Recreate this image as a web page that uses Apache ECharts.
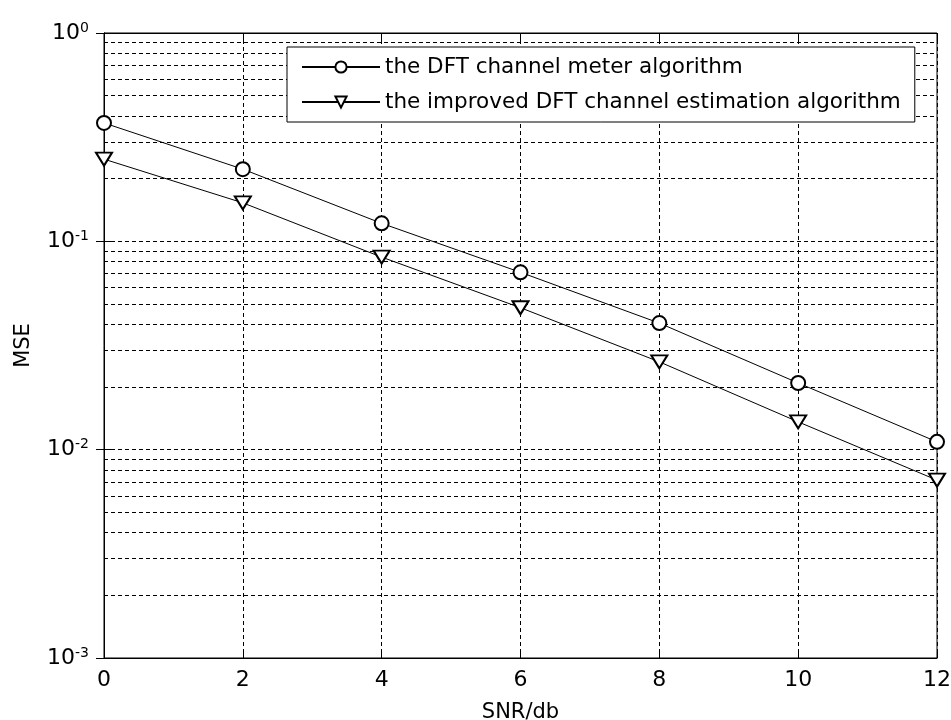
<!DOCTYPE html>
<html>
<head>
<meta charset="utf-8">
<script src="https://cdn.jsdelivr.net/npm/echarts@6/dist/echarts.min.js"></script>
<style>
  html, body { margin: 0; padding: 0; background: #fff; }
  #chartDiv { width: 951px; height: 720px; }
</style>
</head>
<body>
<div id="chartDiv"></div>
<script>
// SNR values (x) and MSE for the two algorithms
var snr = [0, 2, 4, 6, 8, 10, 12];
var dftMse = [0.37, 0.222, 0.122, 0.071, 0.0405, 0.0209, 0.0109];
var improvedMse = [0.248, 0.153, 0.084, 0.048, 0.0264, 0.0136, 0.00714];
var seriesNames = ['the DFT channel meter algorithm', 'the improved DFT channel estimation algorithm'];
// minor log grid lines (2..9 x 10^k)
var minorGrid = [];
[0.001, 0.01, 0.1].forEach(function (d) {
    for (var k = 2; k <= 9; k++) minorGrid.push(+(k * d).toPrecision(3));
});

var FONT = 'DejaVu Sans, Liberation Sans, Arial, sans-serif';
var dash = [4, 3];

var myChart = echarts.init(document.getElementById('chartDiv'));

var toPairs = function (ys) {
    return snr.map(function (x, i) { return [x, ys[i]]; });
};

var option = {
    backgroundColor: '#fff',
    animation: false,
    grid: {
        left: 104, right: 14, top: 33, bottom: 62,
        outerBoundsMode: 'none',
        containLabel: false,
        show: true,
        borderColor: '#000',
        borderWidth: 1
    },
    legend: {
        orient: 'vertical',
        left: 287, top: 47,
        z: 20,
        padding: [8, 14, 8, 14],
        itemWidth: 78, itemHeight: 14, itemGap: 11,
        backgroundColor: '#fff',
        borderColor: '#000', borderWidth: 1,
        textStyle: { fontFamily: FONT, fontSize: 21.5, color: '#000', lineHeight: 24 },
        data: seriesNames
    },
    xAxis: [{
        type: 'value', min: 0, max: 12, interval: 2,
        name: 'SNR/db', nameLocation: 'middle', nameGap: 44,
        nameTextStyle: { fontFamily: FONT, fontSize: 21, color: '#000' },
        axisLine: { lineStyle: { color: '#000' } },
        axisTick: { inside: true, length: 8, lineStyle: { color: '#000' } },
        axisLabel: { fontFamily: FONT, fontSize: 22, color: '#000', margin: 11 },
        splitLine: { show: true, lineStyle: { color: '#000', type: dash } }
    }, {
        type: 'value', min: 0, max: 12, interval: 2, position: 'top',
        axisLine: { lineStyle: { color: '#000' } },
        axisTick: { inside: true, length: 8, lineStyle: { color: '#000' } },
        axisLabel: { show: false },
        splitLine: { show: false }
    }],
    yAxis: [{
        type: 'log', min: 0.001, max: 1, logBase: 10,
        name: 'MSE', nameLocation: 'middle', nameGap: 70,
        nameTextStyle: { fontFamily: FONT, fontSize: 21, color: '#000' },
        axisLine: { lineStyle: { color: '#000' } },
        axisTick: { inside: true, length: 8, lineStyle: { color: '#000' } },
        axisLabel: {
            margin: 15,
            formatter: function (v) {
                return '{b|10}{e|' + Math.round(Math.log10(v)) + '}';
            },
            rich: {
                b: { fontFamily: FONT, fontSize: 22, color: '#000', lineHeight: 24 },
                e: { fontFamily: FONT, fontSize: 14, color: '#000', verticalAlign: 'top', lineHeight: 14, padding: [0, 0, 13, 0] }
            }
        },
        splitLine: { show: true, lineStyle: { color: '#000', type: dash } }
    }, {
        type: 'log', min: 0.001, max: 1, logBase: 10, position: 'right',
        axisLine: { lineStyle: { color: '#000' } },
        axisTick: { inside: true, length: 8, lineStyle: { color: '#000' } },
        axisLabel: { show: false },
        splitLine: { show: false }
    }],
    series: [{
        name: 'minor grid',
        type: 'line',
        data: [],
        silent: true,
        z: 1,
        markLine: {
            silent: true, symbol: 'none', animation: false,
            label: { show: false },
            lineStyle: { color: '#000', width: 1, type: dash },
            data: minorGrid.map(function (v) {
                return [{ coord: [0, v] }, { coord: [12, v] }];
            })
        }
    }, {
        name: seriesNames[0],
        type: 'line',
        data: toPairs(dftMse),
        symbol: 'emptyCircle', symbolSize: 14,
        lineStyle: { color: '#000', width: 1 },
        itemStyle: { color: '#000', borderColor: '#000', borderWidth: 1 },
        z: 5
    }, {
        name: seriesNames[1],
        type: 'line',
        data: toPairs(improvedMse),
        symbol: 'emptyTriangle', symbolRotate: 180, symbolSize: [16, 13],
        lineStyle: { color: '#000', width: 1 },
        itemStyle: { color: '#000', borderColor: '#000', borderWidth: 1 },
        z: 5
    }]
};

myChart.setOption(option);
</script>
</body>
</html>
